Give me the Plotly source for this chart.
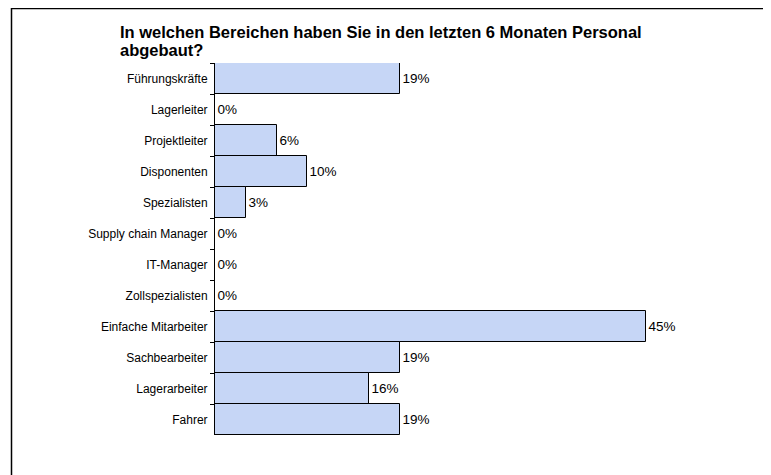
import plotly.graph_objects as go

categories = ["Führungskräfte", "Lagerleiter", "Projektleiter", "Disponenten", "Spezialisten",
              "Supply chain Manager", "IT-Manager", "Zollspezialisten", "Einfache Mitarbeiter",
              "Sachbearbeiter", "Lagerarbeiter", "Fahrer"]
values = [19.35, 0.0, 6.45, 9.68, 3.23, 0.0, 0.0, 0.0, 45.16, 19.35, 16.13, 19.35]
labels = [f"{round(v)}%" for v in values]
title_lines = ["In welchen Bereichen haben Sie in den letzten 6 Monaten Personal", "abgebaut?"]

# page body has an 8px margin: work in figure coordinates (screen - 8)
OFF = 8
W, H = 771 - OFF, 475 - OFF
L, R, T, B = 215 - OFF, 692 - OFF, 63 - OFF, 435 - OFF

fig = go.Figure(go.Bar(
    y=categories, x=values, orientation="h",
    marker=dict(color="#c6d6f6", line=dict(color="#000000", width=1)),
    text=labels, textposition="outside", cliponaxis=False,
    textfont=dict(family="Liberation Sans, Arial", size=13.5, color="#000000"),
))

def px2x(px):
    return (px - OFF - L) / (R - L)

def py2y(py):
    return (B - (py - OFF)) / (B - T)

fig.add_shape(type="rect", xref="paper", yref="paper",
              x0=px2x(11.5), x1=px2x(765.5), y0=py2y(500), y1=py2y(8.5),
              line=dict(color="#000000", width=1.5), fillcolor="rgba(0,0,0,0)")

# title lines (screen baseline ~36 and ~54)
for line, top in zip(title_lines, [22, 40]):
    fig.add_annotation(text=f"<b>{line}</b>", xref="paper", yref="paper",
                       x=px2x(119), xanchor="left", y=py2y(top), yanchor="top",
                       showarrow=False, borderpad=0,
                       font=dict(family="Liberation Sans, Arial", size=16.5, color="#000000"))

fig.update_layout(
    width=W, height=H,
    margin=dict(l=L, r=W - R, t=T, b=H - B, autoexpand=False),
    paper_bgcolor="white", plot_bgcolor="white",
    bargap=0, showlegend=False,
    font=dict(family="Liberation Sans, Arial", color="#000000"),
    xaxis=dict(range=[0, 50], visible=False, showgrid=False, zeroline=False),
    yaxis=dict(autorange="reversed", showline=True, linecolor="#000000", linewidth=1,
               ticks="outside", ticklen=4, tickcolor="#000000", tickson="boundaries",
               showgrid=False, zeroline=False, automargin=False,
               tickfont=dict(family="Liberation Sans, Arial", size=12, color="#000000"),
               ticklabelstandoff=4),
)

fig.write_html("out.html")
